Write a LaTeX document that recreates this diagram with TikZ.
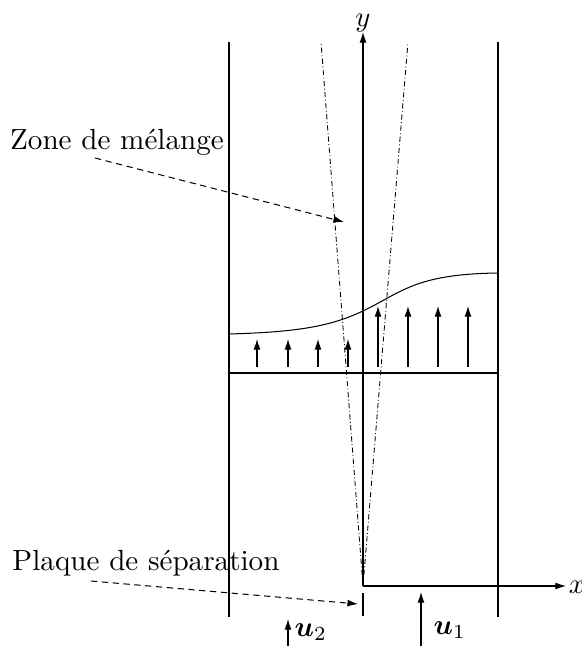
\documentclass[tikz,border=0pt]{standalone}
\usepackage{amsmath,bm}
\usetikzlibrary{arrows.meta}
\begin{document}
\begin{tikzpicture}[x=0.35pt,y=-0.35pt,
  thinline/.style={line width=0.36pt},
  tip/.style={-{Latex[length=3.7pt,width=2.4pt]}},
  leader/.style={thinline,dash pattern=on 2.2pt off 1.6pt,-{Latex[length=3.7pt,width=2.4pt]}},
  dashdot/.style={line width=0.3pt,dash pattern=on 1.8pt off 0.9pt on 0.3pt off 0.9pt},
  lbl/.style={inner sep=0pt,font=\fontsize{10}{12}\selectfont}]
\useasboundingbox (0,0) rectangle (582,646);
% walls
\coordinate (LWt) at (229,42); \coordinate (LWb) at (229,617);
\coordinate (RWt) at (498,42); \coordinate (RWb) at (498,617);
\draw[thinline] (LWt) -- (LWb);
\draw[thinline] (RWt) -- (RWb);
% axes
\coordinate (O) at (363,586);
\coordinate (Ytip) at (363,32);
\coordinate (Xtip) at (566,586);
\draw[thinline,tip] (O) -- (Ytip);
\draw[thinline,tip] (O) -- (Xtip);
\node[lbl,anchor=base] (ylab) at (363,26) {$y$};
\node[lbl] (xlab) at (577,587) {$x$};
% plate segment below
\coordinate (Pa) at (363,593); \coordinate (Pb) at (363,616);
\draw[thinline] (Pa) -- (Pb);
% dash-dot spreading lines
\coordinate (DL) at (321,42); \coordinate (DR) at (408,42);
\draw[dashdot] (O) -- (DL);
\draw[dashdot] (O) -- (DR);
% horizontal line
\coordinate (Hl) at (229,373); \coordinate (Hr) at (498,373);
\draw[thinline] (Hl) -- (Hr);
% velocity profile
\coordinate (C0) at (229,334); \coordinate (C1) at (369,308); \coordinate (C2) at (498,273);
\draw[thinline] (C0) .. controls (300,332) and (334,326) .. (C1)
  .. controls (404,290) and (420,274) .. (C2);
% arrows
\foreach \xx in {257,288,318,348}{
  \draw[thinline,tip] (\xx,367) -- (\xx,339);
}
\foreach \xx in {378,408,438,468}{
  \draw[thinline,tip] (\xx,367) -- (\xx,306);
}
% labels
\node[lbl,font=\fontsize{10.2}{12}\selectfont] (zone) at (117,142) {Zone de mélange};
\coordinate (Zs) at (95,158); \coordinate (Ze) at (344,222);
\draw[leader] (Zs) -- (Ze);
\node[lbl,font=\fontsize{10.2}{12}\selectfont] (plaque) at (146,563) {Plaque de séparation};
\coordinate (Ps) at (91,581); \coordinate (Pe) at (358,604);
\draw[leader] (Ps) -- (Pe);
% inflow velocities
\coordinate (U2b) at (288,646); \coordinate (U2t) at (288,619);
\draw[thinline,tip] (U2b) -- (U2t);
\node[lbl,anchor=west] (u2) at (294,632) {$\bm{u}_2$};
\coordinate (U1b) at (421,646); \coordinate (U1t) at (421,592);
\draw[thinline,tip] (U1b) -- (U1t);
\node[lbl,anchor=west] (u1) at (433,630) {$\bm{u}_1$};
\end{tikzpicture}
\end{document}
